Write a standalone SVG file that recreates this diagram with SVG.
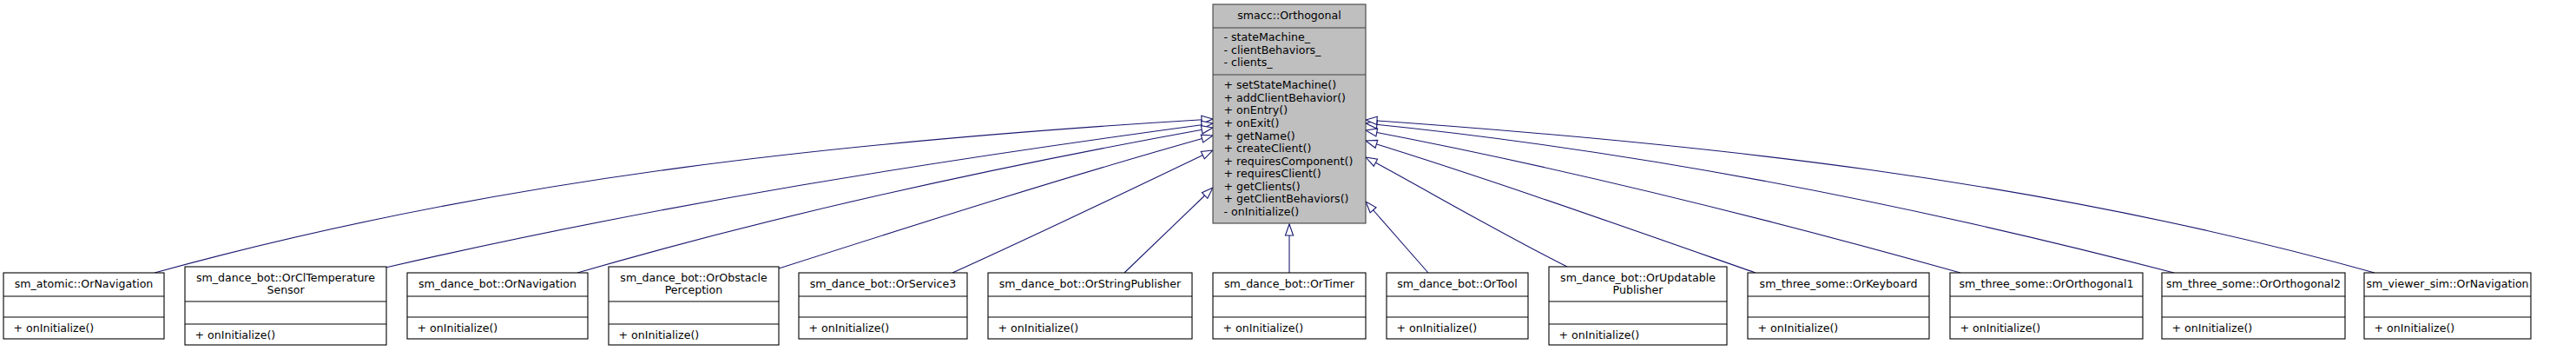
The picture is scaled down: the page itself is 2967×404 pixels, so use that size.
<svg xmlns="http://www.w3.org/2000/svg" width="2967" height="404" viewBox="0 0 2967 404">
<style>
text{font-family:"DejaVu Sans","Liberation Sans",sans-serif;font-size:12.6px;fill:#000}
.c{text-anchor:middle}
.box{fill:#fff;stroke:#000;stroke-width:1.1}
.main{fill:#bfbfbf;stroke:#404040;stroke-width:1.1}
.e{fill:none;stroke:#191970;stroke-width:1.1}
</style>
<defs>
<marker id="tri" markerUnits="userSpaceOnUse" viewBox="-14 -6 16 12" refX="0" refY="0" markerWidth="16" markerHeight="12" orient="auto">
<path d="M0,0 L-13,-4.6 L-13,4.6 Z" fill="#fff" stroke="#191970" stroke-width="1.1"/>
</marker>
</defs>
<rect width="2967" height="404" fill="#fff"/>
<g id="connectors">
<path class="e" marker-end="url(#tri)" d="M178,314 C584.3,201.9 990.7,161.4 1397,137"/>
<path class="e" marker-end="url(#tri)" d="M444,308 C761.7,234.9 1079.3,184.6 1397,142"/>
<path class="e" marker-end="url(#tri)" d="M665,314 C909,243.2 1153,190.9 1397,147"/>
<path class="e" marker-end="url(#tri)" d="M897,309 C1063.7,255.7 1230.3,202.7 1397,156"/>
<path class="e" marker-end="url(#tri)" d="M1097,314 C1197,269 1297,221 1397,173"/>
<path class="e" marker-end="url(#tri)" d="M1295,314 L1397,216"/>
<path class="e" marker-end="url(#tri)" d="M1485,314 L1485,258"/>
<path class="e" marker-end="url(#tri)" d="M1645,314 L1573,232"/>
<path class="e" marker-end="url(#tri)" d="M1805,307 C1727.7,268.3 1650.3,222.8 1573,181"/>
<path class="e" marker-end="url(#tri)" d="M2022,314 C1872.3,261.6 1722.7,208.4 1573,162"/>
<path class="e" marker-end="url(#tri)" d="M2258,314 C2029.7,250.1 1801.3,193.4 1573,150"/>
<path class="e" marker-end="url(#tri)" d="M2504,314 C2193.7,233.3 1883.3,173 1573,142"/>
<path class="e" marker-end="url(#tri)" d="M2735,314 C2347.7,205.6 1960.3,165.1 1573,138"/>
</g>
<g id="smacc_Orthogonal">
<rect class="main" x="1397" y="5" width="176" height="252"/>
<path class="main" d="M1397,32 H1573 M1397,86 H1573"/>
<text class="c" x="1485" y="22">smacc::Orthogonal</text>
<text x="1409.5" y="47">- stateMachine_</text>
<text x="1409.5" y="61.7">- clientBehaviors_</text>
<text x="1409.5" y="76.3">- clients_</text>
<text x="1409.5" y="102.3">+ setStateMachine()</text>
<text x="1409.5" y="116.9">+ addClientBehavior()</text>
<text x="1409.5" y="131.4">+ onEntry()</text>
<text x="1409.5" y="146">+ onExit()</text>
<text x="1409.5" y="160.5">+ getName()</text>
<text x="1409.5" y="175.1">+ createClient()</text>
<text x="1409.5" y="189.6">+ requiresComponent()</text>
<text x="1409.5" y="204.2">+ requiresClient()</text>
<text x="1409.5" y="218.7">+ getClients()</text>
<text x="1409.5" y="233.3">+ getClientBehaviors()</text>
<text x="1409.5" y="247.8">- onInitialize()</text>
</g>
<g id="sm_atomic_OrNavigation">
<rect class="box" x="4" y="314" width="185" height="76"/>
<path class="box" d="M4,341 H189 M4,365 H189"/>
<text class="c" x="96.5" y="331">sm_atomic::OrNavigation</text>
<text x="15.5" y="382">+ onInitialize()</text>
</g>
<g id="sm_dance_bot_OrClTemperatureSensor">
<rect class="box" x="213" y="307" width="232" height="90"/>
<path class="box" d="M213,347 H445 M213,373 H445"/>
<text class="c" x="329" y="323.5">sm_dance_bot::OrClTemperature</text>
<text class="c" x="329" y="337.8">Sensor</text>
<text x="224.5" y="389.5">+ onInitialize()</text>
</g>
<g id="sm_dance_bot_OrNavigation">
<rect class="box" x="469" y="314" width="208" height="76"/>
<path class="box" d="M469,341 H677 M469,365 H677"/>
<text class="c" x="573" y="331">sm_dance_bot::OrNavigation</text>
<text x="480.5" y="382">+ onInitialize()</text>
</g>
<g id="sm_dance_bot_OrObstaclePerception">
<rect class="box" x="701" y="307" width="196" height="90"/>
<path class="box" d="M701,347 H897 M701,373 H897"/>
<text class="c" x="799" y="323.5">sm_dance_bot::OrObstacle</text>
<text class="c" x="799" y="337.8">Perception</text>
<text x="712.5" y="389.5">+ onInitialize()</text>
</g>
<g id="sm_dance_bot_OrService3">
<rect class="box" x="920" y="314" width="194" height="76"/>
<path class="box" d="M920,341 H1114 M920,365 H1114"/>
<text class="c" x="1017" y="331">sm_dance_bot::OrService3</text>
<text x="931.5" y="382">+ onInitialize()</text>
</g>
<g id="sm_dance_bot_OrStringPublisher">
<rect class="box" x="1138" y="314" width="235" height="76"/>
<path class="box" d="M1138,341 H1373 M1138,365 H1373"/>
<text class="c" x="1255.5" y="331">sm_dance_bot::OrStringPublisher</text>
<text x="1149.5" y="382">+ onInitialize()</text>
</g>
<g id="sm_dance_bot_OrTimer">
<rect class="box" x="1397" y="314" width="176" height="76"/>
<path class="box" d="M1397,341 H1573 M1397,365 H1573"/>
<text class="c" x="1485" y="331">sm_dance_bot::OrTimer</text>
<text x="1408.5" y="382">+ onInitialize()</text>
</g>
<g id="sm_dance_bot_OrTool">
<rect class="box" x="1597" y="314" width="163" height="76"/>
<path class="box" d="M1597,341 H1760 M1597,365 H1760"/>
<text class="c" x="1678.5" y="331">sm_dance_bot::OrTool</text>
<text x="1608.5" y="382">+ onInitialize()</text>
</g>
<g id="sm_dance_bot_OrUpdatablePublisher">
<rect class="box" x="1784" y="307" width="205" height="90"/>
<path class="box" d="M1784,347 H1989 M1784,373 H1989"/>
<text class="c" x="1886.5" y="323.5">sm_dance_bot::OrUpdatable</text>
<text class="c" x="1886.5" y="337.8">Publisher</text>
<text x="1795.5" y="389.5">+ onInitialize()</text>
</g>
<g id="sm_three_some_OrKeyboard">
<rect class="box" x="2013" y="314" width="209" height="76"/>
<path class="box" d="M2013,341 H2222 M2013,365 H2222"/>
<text class="c" x="2117.5" y="331">sm_three_some::OrKeyboard</text>
<text x="2024.5" y="382">+ onInitialize()</text>
</g>
<g id="sm_three_some_OrOrthogonal1">
<rect class="box" x="2246" y="314" width="222" height="76"/>
<path class="box" d="M2246,341 H2468 M2246,365 H2468"/>
<text class="c" x="2357" y="331">sm_three_some::OrOrthogonal1</text>
<text x="2257.5" y="382">+ onInitialize()</text>
</g>
<g id="sm_three_some_OrOrthogonal2">
<rect class="box" x="2490" y="314" width="211" height="76"/>
<path class="box" d="M2490,341 H2701 M2490,365 H2701"/>
<text class="c" x="2595.5" y="331">sm_three_some::OrOrthogonal2</text>
<text x="2501.5" y="382">+ onInitialize()</text>
</g>
<g id="sm_viewer_sim_OrNavigation">
<rect class="box" x="2723" y="314" width="192" height="76"/>
<path class="box" d="M2723,341 H2915 M2723,365 H2915"/>
<text class="c" x="2819" y="331">sm_viewer_sim::OrNavigation</text>
<text x="2734.5" y="382">+ onInitialize()</text>
</g>
</svg>
